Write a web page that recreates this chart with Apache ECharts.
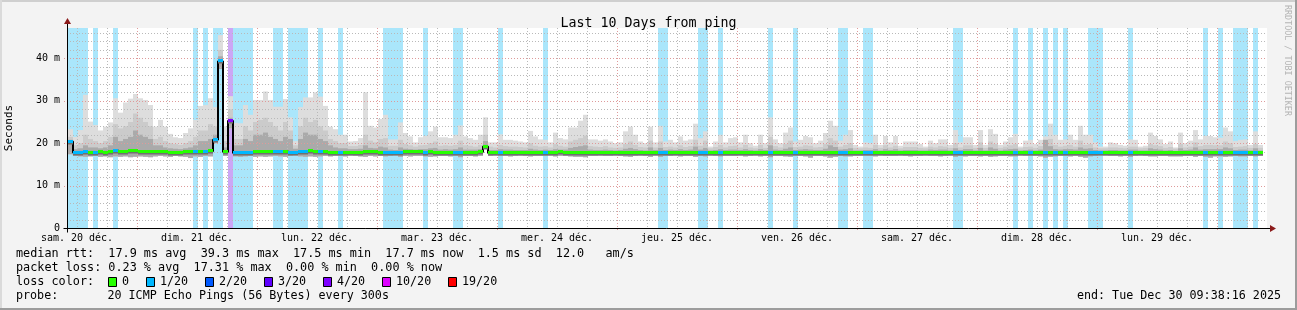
<!DOCTYPE html>
<html><head><meta charset="utf-8">
<script src="https://cdn.jsdelivr.net/npm/echarts@6/dist/echarts.min.js"></script>
<style>html,body{margin:0;padding:0;background:#f3f3f3}#c{width:1297px;height:310px}</style>
</head><body><div id="c"></div>
<script>
// time axis: hours since "sam. 20 déc." 00:00
const X_MIN = 10, X_MAX = 250;
const T0 = 10.2, STEP = 1;          // first sample start and sample step (hours)
const Y_MAX = 47.17;                 // ms
const dayLabels = ['sam. 20 déc.','dim. 21 déc.','lun. 22 déc.','mar. 23 déc.','mer. 24 déc.','jeu. 25 déc.','ven. 26 déc.','sam. 27 déc.','dim. 28 déc.','lun. 29 déc.'];
const dayLabelHours = [12,36,60,84,108,132,156,180,204,228];
const yLabelValues = [0,10,20,30,40];

// smoke: highest ping per sample (ms)
const smokeTop = [
23.3,21.5,23.1,31.4,25.1,24.3,23.0,23.9,24.9,30.6,
27.2,29.6,30.5,31.6,30.6,30.2,29.0,23.9,25.5,23.9,
22.2,21.4,21.2,22.4,23.5,25.5,28.8,29.0,30.6,28.5,
45.5,24.0,31.1,24.8,24.7,29.0,26.7,30.2,30.2,32.2,
30.2,28.6,28.6,30.4,26.1,20.5,28.5,30.8,30.8,32.0,
31.0,28.8,23.9,23.3,22.0,22.0,20.4,20.5,21.2,32.0,
24.1,23.7,25.7,26.7,20.9,20.9,24.9,22.4,21.6,20.2,
21.4,21.7,22.8,23.9,21.4,21.4,21.2,22.0,24.2,21.6,
21.2,20.8,22.0,26.1,20.2,20.2,22.1,20.8,20.8,20.6,
20.4,20.2,22.9,21.6,20.9,20.8,20.2,22.5,21.2,20.9,
23.7,23.7,25.3,26.7,20.9,20.9,20.6,20.9,20.4,20.0,
20.2,22.8,23.9,22.0,20.4,20.0,23.9,20.2,24.1,20.4,
20.8,20.2,21.6,20.6,20.9,24.6,21.2,22.8,19.2,20.4,
22.0,20.2,21.2,21.4,20.2,22.0,20.0,19.4,22.0,20.0,
26.1,20.9,20.0,22.5,23.7,20.4,20.8,21.7,21.4,20.0,
20.6,22.4,25.3,24.1,20.6,22.0,23.1,19.6,19.2,20.2,
20.0,22.0,19.6,21.7,20.2,21.7,19.4,20.4,20.4,20.4,
19.8,19.2,20.6,20.0,20.9,20.9,19.6,23.1,20.2,21.4,
21.4,19.6,23.1,19.6,23.3,22.2,19.6,20.4,21.4,22.2,
19.2,20.6,20.8,19.8,20.8,21.6,24.6,22.0,20.8,20.9,
22.0,20.8,24.1,22.0,22.0,20.2,19.2,19.2,20.2,20.0,
19.6,19.4,20.9,20.8,19.2,19.4,22.5,21.7,20.9,19.8,
20.4,19.0,22.5,20.0,20.6,23.1,20.9,21.7,21.7,21.4,
21.3,23.7,22.8,20.5,20.8,20.9,19.6,22.8,19.6];
// smoke: mid-level ping band (ms)
const smokeMid = [
21.5,19.5,20.0,22.0,21.0,20.5,20.0,20.5,21.5,24.5,
23.5,24.0,25.0,27.0,26.0,25.0,24.0,21.0,21.5,20.5,
20.0,19.8,19.6,20.0,20.5,21.5,23.0,23.0,24.5,24.0,
42.0,20.5,28.0,21.0,21.0,24.0,23.0,25.0,25.5,26.0,
25.0,24.0,23.0,25.0,23.0,19.5,24.0,26.0,25.0,25.5,
24.0,23.0,21.0,20.5,20.0,20.0,19.3,19.3,19.6,22.0,
20.6,20.2,21.0,21.2,19.4,19.4,20.8,19.8,19.5,19.2,
19.5,19.6,20.0,20.4,19.4,19.5,19.4,19.6,20.6,19.5,
19.4,19.2,19.6,22.0,19.2,19.0,19.6,19.3,19.2,19.2,
19.1,19.0,20.0,19.4,19.2,19.3,19.0,19.8,19.4,19.2,
20.4,20.8,21.2,21.8,19.3,19.2,19.1,19.3,19.0,18.9,
19.0,19.8,20.4,19.6,19.1,19.0,20.6,19.0,20.4,19.1,
19.2,19.0,19.5,19.1,19.3,20.8,19.4,20.6,18.8,19.1,
19.6,19.0,19.3,19.4,19.0,19.6,19.0,18.8,19.6,18.9,
21.5,19.3,19.0,19.8,20.6,19.1,19.2,19.5,19.4,19.0,
19.1,19.8,21.2,20.6,19.2,19.6,20.0,18.9,18.8,19.0,
18.9,19.6,18.9,19.5,19.0,19.4,18.8,19.1,19.1,19.1,
18.9,18.8,19.2,19.0,19.3,19.2,18.9,20.0,19.0,19.5,
19.5,18.9,20.2,18.9,20.4,19.8,18.9,19.2,19.5,19.8,
18.8,19.1,19.2,18.9,19.3,19.5,21.0,19.6,19.2,19.4,
19.6,19.2,20.6,19.6,19.8,19.0,18.8,18.8,19.0,19.0,
18.9,18.8,19.2,19.2,18.8,18.9,19.8,19.5,19.3,18.9,
19.1,18.7,19.8,19.0,19.2,20.2,19.3,19.6,19.6,19.5,
19.5,20.4,20.0,19.1,19.2,19.3,18.9,19.8,18.9];
// smoke: dense band near the median (ms)
const smokeDense = [
20.8,18.6,18.8,19.5,19.0,19.0,18.8,19.0,19.5,21.5,
20.5,21.0,21.5,23.0,22.0,21.5,21.0,19.5,19.5,19.0,
18.8,18.7,18.6,18.8,19.0,19.5,20.5,20.5,21.0,22.0,
40.5,19.0,26.0,19.5,19.5,21.0,20.5,22.0,22.0,22.5,
21.5,21.0,20.5,21.5,21.0,18.7,21.0,22.5,22.0,22.0,
21.0,20.5,19.5,19.0,18.8,18.8,18.6,18.6,18.7,19.5,
18.9,18.8,19.2,19.0,18.5,18.4,19.0,18.7,18.6,18.5,
18.6,18.6,18.8,18.9,18.5,18.6,18.5,18.6,19.0,18.5,
18.5,18.5,18.6,20.5,18.4,18.4,18.6,18.5,18.5,18.4,
18.4,18.4,18.7,18.5,18.4,18.5,18.4,18.6,18.5,18.5,
18.9,19.1,19.3,19.5,18.5,18.4,18.4,18.5,18.4,18.3,
18.4,18.7,18.9,18.6,18.4,18.3,19.0,18.4,18.9,18.4,
18.5,18.4,18.6,18.4,18.5,19.2,18.5,18.9,18.3,18.4,
18.6,18.4,18.5,18.5,18.4,18.6,18.4,18.3,18.6,18.4,
19.5,18.5,18.4,18.7,19.0,18.4,18.5,18.6,18.5,18.4,
18.4,18.7,19.5,19.1,18.5,18.6,18.8,18.3,18.3,18.4,
18.4,18.6,18.3,18.6,18.4,18.6,18.3,18.4,18.4,18.4,
18.3,18.3,18.5,18.4,18.5,18.5,18.3,18.8,18.4,18.6,
18.6,18.3,18.9,18.3,19.0,18.7,18.3,18.5,18.6,18.7,
18.3,18.4,18.5,18.3,18.5,20.8,19.3,18.6,18.5,18.6,
18.6,18.5,19.0,18.7,18.8,18.4,18.3,18.3,18.4,18.4,
18.3,18.3,18.5,18.5,18.3,18.3,18.8,18.6,18.5,18.3,
18.4,18.2,18.8,18.4,18.5,19.0,18.5,18.6,18.6,18.6,
18.6,19.0,18.8,18.4,18.5,18.5,18.3,18.8,18.3];
// smoke: lowest ping per sample (ms)
const smokeMin = [
17.4,17.0,16.9,16.8,16.9,17.0,16.8,16.9,16.7,16.9,
16.8,16.9,16.7,16.8,16.9,16.8,16.7,16.9,17.0,16.9,
16.8,17.0,16.9,16.8,16.5,16.9,16.8,17.0,16.9,20.0,
37.5,17.0,23.5,16.9,16.8,16.9,17.0,16.8,16.9,16.8,
16.9,17.0,16.9,16.8,17.0,17.1,16.9,16.8,16.9,16.8,
16.9,17.0,16.9,17.0,17.0,16.9,17.1,17.0,16.9,16.8,
17.0,16.9,17.0,16.9,17.0,17.1,16.8,17.0,16.9,17.0,
17.0,16.9,16.8,16.9,17.0,17.0,16.9,17.0,16.7,17.0,
17.0,16.9,17.0,19.0,17.0,17.1,17.0,17.0,16.9,17.0,
17.1,17.0,16.9,17.0,17.0,17.0,17.1,16.9,17.0,17.0,
16.9,16.8,16.8,16.7,17.0,17.0,17.1,17.0,17.0,17.1,
17.0,16.9,16.8,17.0,17.1,17.0,16.8,17.1,16.8,17.0,
17.0,17.1,16.9,17.0,17.0,16.8,17.0,16.9,17.1,17.0,
16.9,17.0,17.0,17.0,17.1,16.9,17.0,17.1,16.9,17.0,
16.7,17.0,17.0,16.9,16.8,17.0,17.0,16.9,16.6,17.0,
17.0,16.9,16.6,16.8,17.0,16.9,16.9,17.0,17.0,17.0,
17.0,16.9,17.1,17.0,17.0,17.0,17.1,17.0,16.9,17.0,
17.0,17.1,17.0,17.0,16.9,17.0,17.1,16.8,17.0,16.9,
17.0,17.0,16.9,17.0,16.8,16.9,17.0,17.0,16.9,16.9,
17.1,17.0,17.0,17.0,16.9,16.6,16.8,16.9,17.0,17.0,
16.9,17.0,16.8,16.6,16.9,17.0,17.1,17.1,17.0,17.0,
16.9,17.0,16.8,17.0,17.1,17.0,16.9,16.9,17.0,17.0,
16.9,16.9,16.9,17.0,17.0,16.8,17.0,16.8,16.6,16.9,
16.9,16.8,16.9,17.0,16.9,16.9,17.0,16.9,17.0];
// median rtt per sample (ms)
const medianRtt = [
20.4,17.8,17.8,17.9,17.8,17.8,17.9,17.8,17.9,18.2,
18.0,17.9,18.1,18.1,18.0,18.0,18.0,17.9,17.9,17.9,
17.8,17.8,17.8,17.9,17.9,18.0,17.9,18.0,18.1,20.8,
39.3,17.9,25.3,17.7,17.8,17.8,17.8,18.0,18.0,17.9,
17.9,17.9,18.0,18.0,17.8,17.7,17.9,17.9,18.1,17.9,
18.0,17.9,17.8,17.8,17.7,17.8,17.8,17.8,17.8,17.9,
17.9,17.9,17.8,17.8,17.7,17.7,17.8,17.9,18.0,17.9,
17.9,17.8,17.9,17.8,17.8,17.8,17.8,17.7,17.8,17.8,
17.8,17.8,17.9,19.2,17.7,17.8,17.8,17.8,17.8,17.7,
17.7,17.8,17.8,17.8,17.8,17.7,17.8,17.8,17.9,17.8,
17.8,17.8,17.8,17.8,17.8,17.7,17.7,17.8,17.8,17.7,
17.8,17.8,17.8,17.8,17.8,17.7,17.8,17.8,17.7,17.7,
17.8,17.8,17.8,17.8,17.8,17.8,17.7,17.7,17.8,17.8,
17.7,17.8,17.8,17.8,17.8,17.8,17.8,17.8,17.8,17.8,
17.7,17.8,17.8,17.8,17.8,17.7,17.8,17.8,17.8,17.8,
17.8,17.8,17.8,17.8,17.7,17.7,17.8,17.8,17.8,17.7,
17.7,17.8,17.8,17.8,17.8,17.8,17.8,17.8,17.8,17.8,
17.8,17.8,17.8,17.8,17.8,17.8,17.8,17.7,17.7,17.8,
17.8,17.8,17.8,17.8,17.8,17.8,17.8,17.8,17.8,17.7,
17.8,17.8,17.7,17.8,17.8,17.7,17.8,17.7,17.8,17.7,
17.8,17.8,17.8,17.8,17.7,17.7,17.7,17.8,17.8,17.8,
17.8,17.8,17.7,17.8,17.8,17.8,17.8,17.8,17.8,17.8,
17.8,17.8,17.8,17.8,17.8,17.8,17.8,17.7,17.8,17.8,
17.7,17.8,17.8,17.7,17.7,17.7,17.8,17.7,17.8];
// lost pings out of 20 per sample
const lossCount = [
1,1,1,1,0,1,0,0,0,1,
0,0,0,0,0,0,0,0,0,0,
0,0,0,0,0,1,0,1,0,1,
1,0,4,1,1,1,1,0,0,0,
0,1,1,0,1,1,1,1,0,0,
1,0,0,0,1,0,0,0,0,0,
0,0,0,1,1,1,1,0,0,0,
0,1,0,0,0,0,0,1,1,0,
0,0,0,0,0,0,1,0,0,0,
0,0,0,0,0,1,0,0,0,0,
0,0,0,0,0,0,0,0,0,0,
0,0,0,0,0,0,0,0,1,1,
0,0,0,0,0,0,1,1,0,0,
1,0,0,0,0,0,0,0,0,0,
1,0,0,0,0,1,0,0,0,0,
0,0,0,0,1,1,0,0,0,1,
1,0,0,0,0,0,0,0,0,0,
0,0,0,0,0,0,0,1,1,0,
0,0,0,0,0,0,0,0,0,1,
0,0,1,0,0,1,0,1,0,1,
0,0,0,0,1,1,1,0,0,0,
0,0,1,0,0,0,0,0,0,0,
0,0,0,0,0,0,0,1,0,0,
1,0,0,1,1,1,0,1,0];

const lossLevels = [0,1,2,3,4,10,19];
const lossLabels = ['0','1/20','2/20','3/20','4/20','10/20','19/20'];
const lossColors = ['#26ff00','#00b8ff','#0059ff','#5e00ff','#7e00ff','#dd00ff','#ff0000'];
const lossBandColors = ['#ffffff','#aae6fb','#a9c6fb','#c3a8f8','#cca6f5','#f0a8f8','#f8a8a8'];

const titleText = 'Last 10 Days from ping';
const rttLine = 'median rtt:  17.9 ms avg  39.3 ms max  17.5 ms min  17.7 ms now  1.5 ms sd  12.0   am/s';
const lossLine = 'packet loss: 0.23 % avg  17.31 % max  0.00 % min  0.00 % now';
const probeLine = 'probe:       20 ICMP Echo Pings (56 Bytes) every 300s';
const endLine = 'end: Tue Dec 30 09:38:16 2025';

function levelIndex(loss){ let i=0; for(let j=0;j<lossLevels.length;j++){ if(loss>=lossLevels[j]) i=j; } return i; }

const MONO = '"DejaVu Sans Mono", monospace';
const N = medianRtt.length;
const tAt = k => T0 + k*STEP;

const bandData = lossCount.map((v,k)=>[tAt(k), v]);
const smokeData = smokeTop.map((v,k)=>[tAt(k), smokeMin[k], smokeDense[k], smokeMid[k], v]);
const medLine = medianRtt.map((v,k)=>[tAt(k), v]); medLine.push([tAt(N), medianRtt[N-1]]);
const medData = medianRtt.map((v,k)=>[tAt(k), v, lossCount[k]]);

function renderBand(params, api){
  const loss = api.value(1); if(!loss) return null;
  const t = api.value(0), cs = params.coordSys;
  const a = api.coord([t,0]), b = api.coord([t+STEP,0]);
  return {type:'rect', shape:{x:a[0], y:cs.y, width:b[0]-a[0], height:cs.height}, style:{fill:lossBandColors[levelIndex(loss)]}};
}
function renderSmoke(params, api){
  const t = api.value(0);
  const lo = api.value(1);
  const levels = [[api.value(4),'#dddddd'],[api.value(3),'#cbcbcb'],[api.value(2),'#aaaaaa']];
  const children = [];
  for(const [hi,col] of levels){
    const a = api.coord([t,hi]), b = api.coord([t+STEP,lo]);
    children.push({type:'rect', shape:{x:a[0], y:a[1], width:b[0]-a[0], height:b[1]-a[1]}, style:{fill:col}});
  }
  return {type:'group', children};
}
function renderMedian(params, api){
  const t = api.value(0), m = api.value(1), loss = api.value(2);
  const a = api.coord([t,m]), b = api.coord([t+STEP,m]);
  const yc = Math.round(a[1]);
  return {type:'group', children:[
    {type:'rect', shape:{x:a[0], y:yc+1, width:b[0]-a[0], height:1.5}, style:{fill:'#707070'}},
    {type:'rect', shape:{x:a[0], y:yc-2, width:b[0]-a[0], height:3}, style:{fill:lossColors[levelIndex(loss)]}}
  ]};
}
const GRID_MINOR = '#b9b9b9', GRID_MAJOR = '#de9a9a';
function renderGrid(params, api){
  const cs = params.coordSys, ch = [];
  const x0 = cs.x, x1 = cs.x+cs.width, yt = cs.y, yb = cs.y+cs.height;
  for(let v=2; v<=Y_MAX; v+=2){
    const y = Math.round(api.coord([X_MIN,v])[1])+0.5, major = v%10===0;
    ch.push({type:'line', shape:{x1:major?x0-3:x0, y1:y, x2:x1, y2:y}, style:{stroke:major?GRID_MAJOR:GRID_MINOR, lineWidth:1, lineDash:[1,2]}});
  }
  for(let h=Math.ceil(X_MIN/6)*6; h<=X_MAX; h+=6){
    const x = Math.round(api.coord([h,0])[0])+0.5, major = h%24===0;
    ch.push({type:'line', shape:{x1:x, y1:yt, x2:x, y2:major?yb+3:yb}, style:{stroke:major?GRID_MAJOR:GRID_MINOR, lineWidth:1, lineDash:[1,2]}});
  }
  return {type:'group', children:ch};
}
function renderFrame(params, api){
  const cs = params.coordSys;
  const o = api.coord([X_MIN,0]);
  const x = Math.round(o[0])+0.5, y = Math.round(o[1])+0.5;
  const xr = cs.x+cs.width+3, yt = cs.y-4;
  return {type:'group', children:[
    {type:'line', shape:{x1:x-4, y1:y, x2:xr, y2:y}, style:{stroke:'#000', lineWidth:1}},
    {type:'line', shape:{x1:x, y1:y+4, x2:x, y2:yt}, style:{stroke:'#000', lineWidth:1}},
    {type:'polygon', shape:{points:[[xr,y-3.5],[xr+6,y],[xr,y+3.5]]}, style:{fill:'#8b1a1a'}},
    {type:'polygon', shape:{points:[[x-3.5,yt],[x,yt-6],[x+3.5,yt]]}, style:{fill:'#8b1a1a'}}
  ]};
}

const chart = echarts.init(document.getElementById('c'), null, {renderer:'canvas'});
const graphics = [
  {type:'rect', shape:{x:0,y:0,width:1297,height:2}, style:{fill:'#cfcfcf'}},
  {type:'rect', shape:{x:0,y:0,width:2,height:310}, style:{fill:'#dadada'}},
  {type:'rect', shape:{x:1295,y:0,width:2,height:310}, style:{fill:'#9c9c9c'}},
  {type:'rect', shape:{x:0,y:308,width:1297,height:2}, style:{fill:'#9c9c9c'}},
  {type:'text', x:1287, y:5, rotation:-Math.PI/2, style:{text:'RRDTOOL / TOBI OETIKER', font:'8.4px '+MONO, fill:'#b4b4b4', textAlign:'left', textVerticalAlign:'middle'}},
  {type:'text', x:16, y:254, style:{text:rttLine, font:'11.8px '+MONO, fill:'#000', textVerticalAlign:'middle'}},
  {type:'text', x:16, y:268, style:{text:lossLine, font:'11.8px '+MONO, fill:'#000', textVerticalAlign:'middle'}},
  {type:'text', x:16, y:282, style:{text:'loss color:', font:'11.8px '+MONO, fill:'#000', textVerticalAlign:'middle'}},
  {type:'text', x:16, y:296, style:{text:probeLine, font:'11.7px '+MONO, fill:'#000', textVerticalAlign:'middle'}},
  {type:'text', x:1281, y:296, style:{text:endLine, font:'11.7px '+MONO, fill:'#000', textAlign:'right', textVerticalAlign:'middle'}}
];
let lx = 108;
lossLabels.forEach((lab,i)=>{
  graphics.push({type:'rect', shape:{x:lx+0.5,y:277.5,width:8,height:9}, style:{fill:lossColors[i], stroke:'#000', lineWidth:1}});
  graphics.push({type:'text', x:lx+14, y:282, style:{text:lab, font:'11.7px '+MONO, fill:'#000', textVerticalAlign:'middle'}});
  lx += 14 + 7*lab.length + 17;
});

chart.setOption({
  animation:false,
  backgroundColor:'#f3f3f3',
  title:{text:titleText, left:'center', top:12, textStyle:{fontFamily:MONO, fontSize:13.3, fontWeight:'normal', color:'#000'}},
  grid:{left:67, top:28, width:1200, height:200, show:true, backgroundColor:'#ffffff', borderWidth:0, containLabel:false, outerBoundsMode:'none'},
  xAxis:{type:'value', min:X_MIN, max:X_MAX, axisLine:{show:false}, axisTick:{show:false}, splitLine:{show:false},
    axisLabel:{customValues:dayLabelHours, formatter:(v)=>{const i=dayLabelHours.indexOf(v); return i>=0?dayLabels[i]:'';}, fontFamily:MONO, fontSize:10, color:'#000', margin:5}},
  yAxis:{type:'value', min:0, max:Y_MAX, axisLine:{show:false}, axisTick:{show:false}, splitLine:{show:false},
    name:'Seconds', nameLocation:'middle', nameRotate:90, nameGap:52, nameTextStyle:{fontFamily:MONO, fontSize:11, color:'#000'},
    axisLabel:{customValues:yLabelValues, showMaxLabel:true, showMinLabel:true, formatter:(v)=>v===0?'0':(v+' m'), fontFamily:MONO, fontSize:10, color:'#000', margin:7}},
  graphic:graphics,
  series:[
    {type:'custom', z:1, renderItem:renderBand, data:bandData, silent:true, clip:true},
    {type:'custom', z:2, renderItem:renderSmoke, data:smokeData, silent:true, clip:true},
    {type:'custom', z:3, renderItem:renderGrid, data:[[X_MIN,0]], silent:true},
    {type:'line', z:4, step:'end', data:medLine, symbol:'none', lineStyle:{color:'#000', width:2}, silent:true},
    {type:'custom', z:5, renderItem:renderMedian, data:medData, silent:true, clip:true},
    {type:'custom', z:6, renderItem:renderFrame, data:[[X_MIN,0]], silent:true}
  ]
});
</script></body></html>
